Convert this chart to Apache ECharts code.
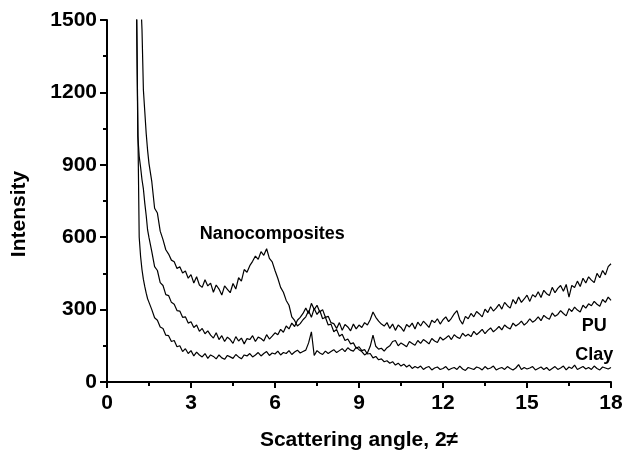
<!DOCTYPE html>
<html>
<head>
<meta charset="utf-8">
<title>Scattering intensity</title>
<script src="https://cdn.jsdelivr.net/npm/echarts@6/dist/echarts.min.js"></script>
<style>
  html, body { margin: 0; padding: 0; background: #fff; }
  #chart { width: 624px; height: 454px; }
</style>
</head>
<body>
<div id="chart"></div>
<script>
// scattering angle 2θ (deg), finer steps at the steep start
const angles = [
  1.00, 1.05, 1.10, 1.15, 1.20, 1.25, 1.30, 1.35, 1.40, 1.45, 1.50,
  1.6, 1.7, 1.8, 1.9, 2.0,
  2.1, 2.2, 2.3, 2.4, 2.5, 2.6, 2.7, 2.8, 2.9, 3.0,
  3.1, 3.2, 3.3, 3.4, 3.5, 3.6, 3.7, 3.8, 3.9, 4.0,
  4.1, 4.2, 4.3, 4.4, 4.5, 4.6, 4.7, 4.8, 4.9, 5.0,
  5.1, 5.2, 5.3, 5.4, 5.5, 5.6, 5.7, 5.8, 5.9, 6.0,
  6.1, 6.2, 6.3, 6.4, 6.5, 6.6, 6.7, 6.8, 6.9, 7.0,
  7.1, 7.2, 7.3, 7.4, 7.5, 7.6, 7.7, 7.8, 7.9, 8.0,
  8.1, 8.2, 8.3, 8.4, 8.5, 8.6, 8.7, 8.8, 8.9, 9.0,
  9.1, 9.2, 9.3, 9.4, 9.5, 9.6, 9.7, 9.8, 9.9, 10.0,
  10.1, 10.2, 10.3, 10.4, 10.5, 10.6, 10.7, 10.8, 10.9, 11.0,
  11.1, 11.2, 11.3, 11.4, 11.5, 11.6, 11.7, 11.8, 11.9, 12.0,
  12.1, 12.2, 12.3, 12.4, 12.5, 12.6, 12.7, 12.8, 12.9, 13.0,
  13.1, 13.2, 13.3, 13.4, 13.5, 13.6, 13.7, 13.8, 13.9, 14.0,
  14.1, 14.2, 14.3, 14.4, 14.5, 14.6, 14.7, 14.8, 14.9, 15.0,
  15.1, 15.2, 15.3, 15.4, 15.5, 15.6, 15.7, 15.8, 15.9, 16.0,
  16.1, 16.2, 16.3, 16.4, 16.5, 16.6, 16.7, 16.8, 16.9, 17.0,
  17.1, 17.2, 17.3, 17.4, 17.5, 17.6, 17.7, 17.8, 17.9, 18.0
]

// clay: broad peak near 5.6, low and flat at high angle
const clay = [
  3000, 2500, 2050, 1780, 1600, 1460, 1210, 1120, 1030, 960, 905,
  830, 720, 700, 625, 590,
  548, 530, 505, 498, 470, 478, 452, 460, 430, 445,
  410, 436, 402, 392, 424, 398, 410, 372, 402, 385,
  360, 398, 384, 370, 408, 385, 432, 418, 466, 455,
  482, 500, 522, 508, 540, 525, 552, 512, 498, 462,
  430, 392, 372, 338, 318, 270, 255, 232, 242, 258,
  270, 295, 268, 305, 280, 296, 262, 268, 236, 240,
  208, 218, 190, 198, 172, 178, 158, 162, 140, 146,
  130, 134, 116, 118, 100, 106, 92, 96, 84, 88,
  78, 84, 70, 78, 66, 74, 62, 70, 56, 64,
  58, 66, 52, 60, 64, 50, 58, 62, 52, 56,
  64, 50, 56, 60, 52, 66, 54, 48, 60, 56,
  52, 62, 58, 50, 64, 54, 58, 66, 50, 56,
  60, 52, 64, 56, 50, 58, 72, 52, 60, 54,
  58, 64, 50, 56, 62, 52, 60, 48, 56, 64,
  52, 58, 66, 50, 62, 56, 70, 52, 58, 64,
  54, 60, 52, 66, 56, 50, 62, 58, 54, 60
]

const nanocomposites = [
  3200, 1650, 1020, 935, 890, 838, 800, 740, 690, 630, 598,
  540, 478, 462, 412, 400,
  362, 358, 330, 322, 296, 294, 268, 270, 244, 250,
  226, 236, 210, 222, 200, 212, 194, 182, 204, 176,
  192, 168, 186, 176, 160, 188, 170, 182, 158, 180,
  176, 192, 168, 186, 180, 170, 196, 178, 190, 204,
  196, 218, 206, 232, 220, 244, 230, 256, 268, 284,
  306, 284, 326, 300, 318, 290, 300, 268, 272, 246,
  242, 222, 246, 214, 238, 228, 212, 240, 220, 236,
  226, 246, 236, 258, 290, 268, 252, 240, 232, 246,
  222, 240, 214, 236, 226, 210, 238, 228, 244, 220,
  248, 232, 252, 240, 226, 256, 246, 262, 240, 258,
  270, 250, 264, 282, 296, 258, 240, 272, 262, 284,
  270, 292, 282, 270, 302, 288, 312, 294, 306, 322,
  302, 330, 316, 306, 342, 324, 352, 330, 344, 360,
  334, 362, 352, 374, 350, 380, 366, 358, 392, 370,
  388, 400, 376, 404, 352, 400, 392, 418, 396, 430,
  410, 436, 422, 412, 450, 432, 462, 444, 478, 490
]

const pu = [
  3000, 1600, 1080, 600, 520, 465, 425, 395, 368, 345, 330,
  300, 266, 256, 228, 222,
  194, 192, 168, 172, 146, 150, 126, 138, 118, 130,
  108, 124, 112, 104, 118, 98, 112, 106, 96, 112,
  100, 94, 110, 104, 98, 114, 104, 96, 112, 108,
  118, 104, 112, 122, 108, 118, 126, 110, 120, 116,
  128, 112, 122, 118, 130, 114, 124, 132, 120, 126,
  132, 162, 208, 110, 130, 120, 114, 128, 118, 126,
  134, 122, 130, 138, 126, 142, 132, 128, 144, 134,
  126, 112, 120, 148, 194, 148, 136, 140, 128, 142,
  150, 168, 172, 150, 162, 154, 146, 168, 160, 152,
  172, 160, 176, 168, 158, 180, 170, 164, 186, 174,
  182, 192, 176, 196, 186, 180, 202, 190, 198, 188,
  210, 196, 206, 218, 200, 214, 224, 208, 218, 230,
  216, 236, 226, 220, 244, 232, 240, 252, 236, 246,
  262, 248, 256, 270, 254, 276, 266, 260, 286, 272,
  280, 296, 284, 274, 304, 292, 310, 298, 290, 318,
  306, 324, 316, 334, 322, 314, 342, 330, 352, 338
]

// curve labels, anchored in data coordinates
const labelTexts = ['Nanocomposites', 'PU', 'Clay']
const labelX = [5.9, 17.4, 17.4]
const labelY = [613, 232, 112]

const FONT = '"Liberation Sans", Arial, sans-serif'

const chart = echarts.init(document.getElementById('chart'))

function lineSeries(name, values) {
  return {
    name: name,
    type: 'line',
    data: angles.map((a, i) => [a, values[i]]),
    showSymbol: false,
    symbol: 'none',
    clip: true,
    lineStyle: { color: '#000', width: 1.2 }
  }
}

const option = {
  backgroundColor: '#fff',
  animation: false,
  grid: { left: 107, right: 13, top: 20, bottom: 72, outerBoundsMode: 'none' },
  xAxis: {
    type: 'value',
    min: 0,
    max: 18,
    interval: 3,
    name: 'Scattering angle, 2≠',
    nameLocation: 'middle',
    nameGap: 48,
    nameTextStyle: { color: '#000', fontSize: 21, fontWeight: 'bold', fontFamily: FONT },
    axisLine: { onZero: false, lineStyle: { color: '#000', width: 2 } },
    axisTick: { length: 6, lineStyle: { color: '#000', width: 2 } },
    minorTick: { show: true, splitNumber: 2, length: 4, lineStyle: { color: '#000', width: 2 } },
    splitLine: { show: false },
    axisLabel: { color: '#000', fontSize: 21, fontWeight: 'bold', fontFamily: FONT, margin: 11 }
  },
  yAxis: {
    type: 'value',
    min: 0,
    max: 1500,
    interval: 300,
    name: 'Intensity',
    nameLocation: 'middle',
    nameGap: 77,
    nameTextStyle: {
      color: '#000', fontSize: 21, fontWeight: 'bold', fontFamily: FONT,
      padding: [0, 26, 0, 0]
    },
    axisLine: { show: true, onZero: false, lineStyle: { color: '#000', width: 2 } },
    axisTick: { show: true, length: 7, lineStyle: { color: '#000', width: 2 } },
    minorTick: { show: true, splitNumber: 2, length: 4, lineStyle: { color: '#000', width: 2 } },
    splitLine: { show: false },
    axisLabel: {
      color: '#000', fontSize: 21, fontWeight: 'bold', fontFamily: FONT, margin: 10,
      formatter: v => String(v)
    }
  },
  series: [
    lineSeries('Clay', clay),
    lineSeries('Nanocomposites', nanocomposites),
    lineSeries('PU', pu)
  ]
}

chart.setOption(option)

// place the curve labels once the scales exist
chart.setOption({
  graphic: labelTexts.map((t, i) => {
    const p = chart.convertToPixel({ gridIndex: 0 }, [labelX[i], labelY[i]])
    return {
      type: 'text',
      x: p[0],
      y: p[1],
      silent: true,
      style: {
        text: t,
        fill: '#000',
        align: 'center',
        verticalAlign: 'middle',
        font: 'bold 18px ' + FONT
      }
    }
  })
})
</script>
</body>
</html>
